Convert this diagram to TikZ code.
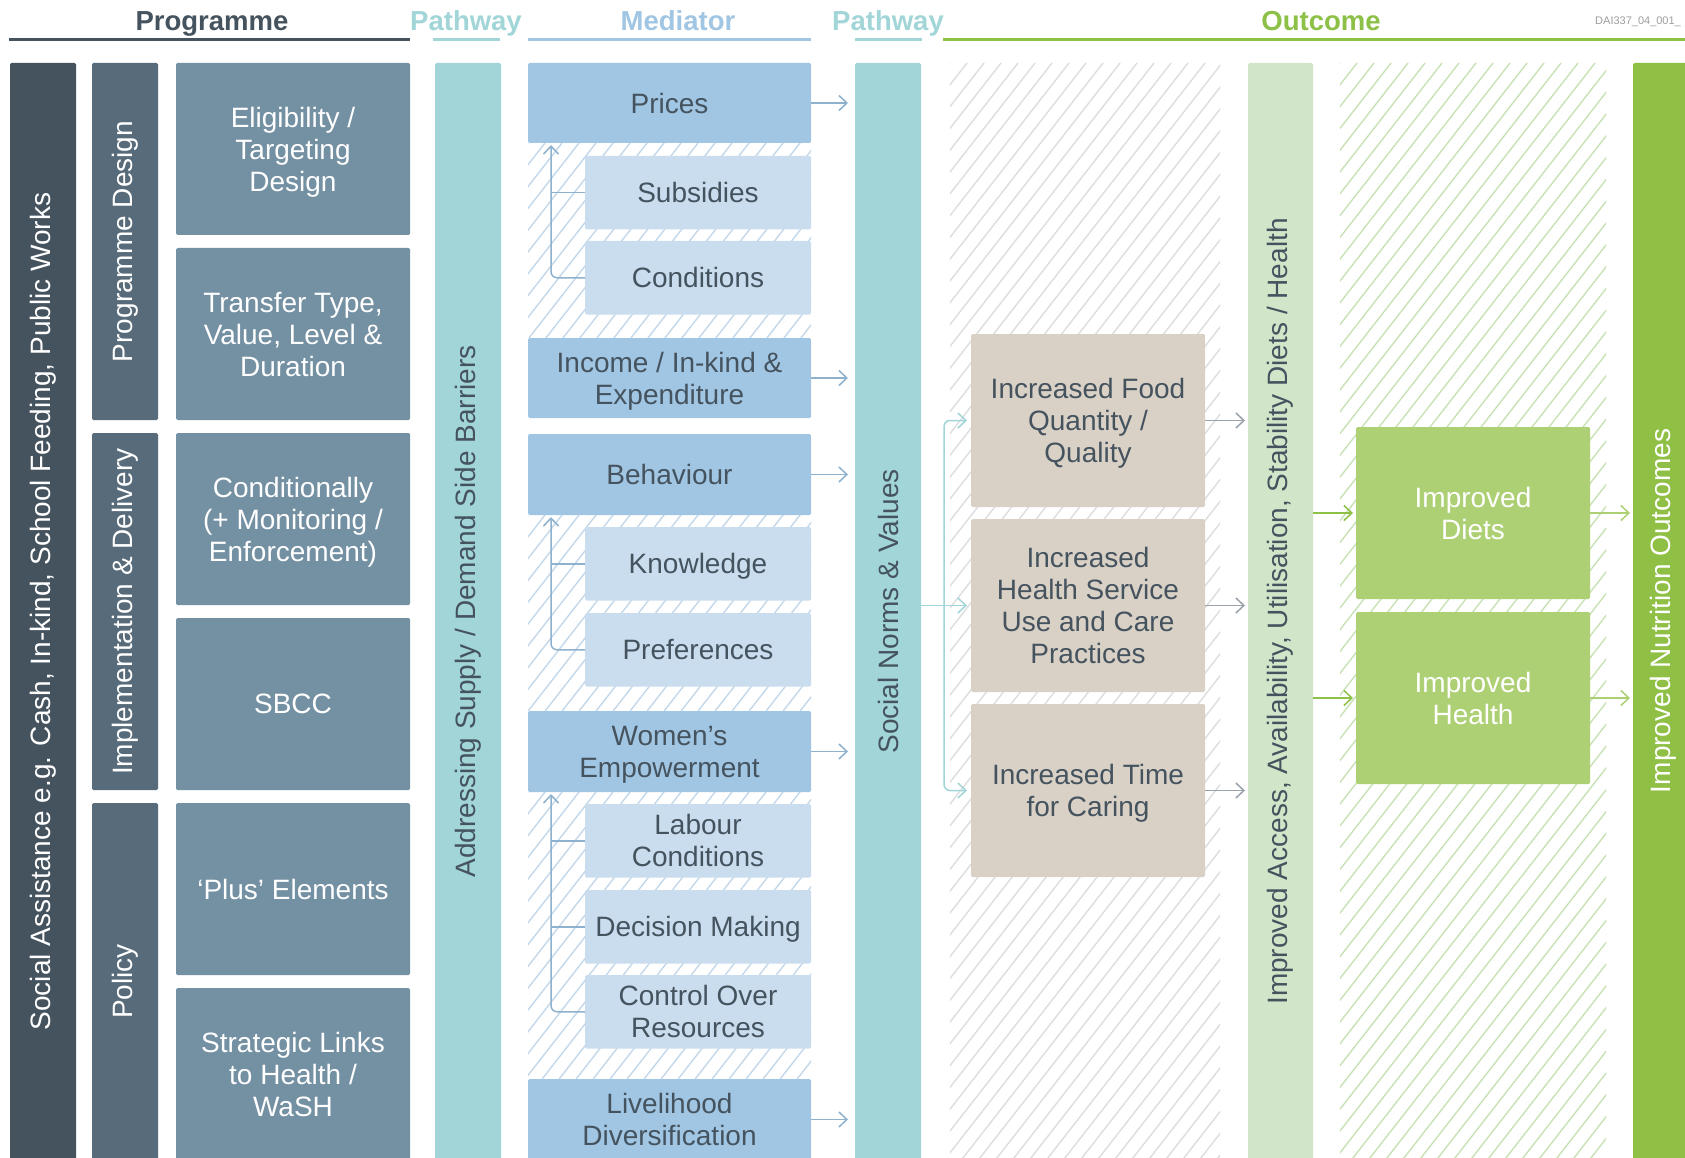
\documentclass[tikz,border=0pt]{standalone}
\usepackage{fontspec}
\setmainfont{Liberation Sans}
\usetikzlibrary{arrows.meta,calc}
\definecolor{cA}{HTML}{45535F}
\definecolor{cB}{HTML}{576B7A}
\definecolor{cC}{HTML}{7490A3}
\definecolor{cPw}{HTML}{A1D5D8}
\definecolor{cMed}{HTML}{A1C6E3}
\definecolor{cSub}{HTML}{CADDEE}
\definecolor{cT}{HTML}{45535F}
\definecolor{cTan}{HTML}{D9D1C6}
\definecolor{cLG}{HTML}{D1E5C9}
\definecolor{cGB}{HTML}{AED074}
\definecolor{cFin}{HTML}{8FBF45}
\definecolor{cOut}{HTML}{8DC047}
\definecolor{hGrey}{HTML}{DDDDDD}
\definecolor{hBlue}{HTML}{C3D8EA}
\definecolor{hGreen}{HTML}{C8E2B6}
\definecolor{aBlue}{HTML}{8EB1CE}
\definecolor{aGrey}{HTML}{9AA3AC}
\newcommand\bxfont{\fontsize{28}{32}\selectfont}
\newcommand\hatchrect[5]{%
  \begin{scope}
    \clip (#2,#3) rectangle (#4,#5);
    \pgfmathsetmacro\hA{#2-(#5-#3)*0.78}
    \pgfmathsetmacro\hB{\hA+17}
    \foreach \s in {\hA,\hB,...,#4}{\draw[#1, line width=1.4pt] (\s,#5) -- ++({(#5-#3)*0.78},{-(#5-#3)});}
  \end{scope}}
\tikzset{
  box/.style={rectangle, rounded corners=1.5pt, inner sep=0pt, outer sep=0pt, anchor=north west, align=center, font=\bxfont, text depth=0pt},
  colbox/.style={box, minimum width=66pt},
  progC/.style={box, fill=cC, text=white, minimum width=234pt, minimum height=172pt},
  medM/.style={box, fill=cMed, text=cT, minimum width=283pt, minimum height=80pt},
  medS/.style={box, fill=cSub, text=cT, minimum width=226pt, minimum height=73.5pt},
  tanbox/.style={box, fill=cTan, text=cT, minimum width=234pt, minimum height=173pt},
  greenbox/.style={box, fill=cGB, text=white, minimum width=234pt, minimum height=172pt},
  vtext/.style={rotate=90, font=\bxfont, inner sep=0pt},
  hdr/.style={anchor=base, font=\fontsize{27.5}{32}\selectfont\bfseries, inner sep=0pt},
  hline/.style={line width=3pt},
  tipR/.style={-{Straight Barb[length=8pt,width=15pt]}},
  marr/.style={tipR, aBlue, line width=1.5pt, shorten >=7pt},
  mline/.style={aBlue, line width=1.5pt},
  tarr/.style={tipR, cPw, line width=1.5pt, shorten >=4pt},
  garr/.style={tipR, aGrey, line width=1.5pt, shorten >=3pt},
  gin/.style={tipR, cOut, line width=1.5pt, shorten >=3pt},
  gout/.style={tipR, cGB, line width=1.5pt, shorten >=3pt},
}
\begin{document}
\begin{tikzpicture}[x=1pt,y=-1pt]
\clip (0,0) rectangle (1685,1158);
\fill[white] (0,0) rectangle (1685,1158);

% ---------- headers ----------
\node[hdr, text=cA] (hProg) at (212,31) {Programme};
\node[hdr, text=cPw] (hPw1) at (466,31) {Pathway};
\node[hdr, text=cMed] (hMed) at (678,31) {Mediator};
\node[hdr, text=cPw] (hPw2) at (888,31) {Pathway};
\node[hdr, text=cOut] (hOut) at (1321,31) {Outcome};
\node[anchor=west, inner sep=0pt, font=\fontsize{11}{13}\selectfont, text=black!38] (dai) at (1595,22) {DAI337\_04\_001\_};
\draw[hline, cA] (9,40) -- (410,40);
\draw[hline, cPw] (433,40) -- (500,40);
\draw[hline, cMed] (528,40) -- (811,40);
\draw[hline, cPw] (855,40) -- (922,40);
\draw[hline, cOut] (943,40) -- (1685,40);

% ---------- hatched backgrounds ----------
\hatchrect{hGrey}{950}{63}{1220}{1160}
\hatchrect{hGreen}{1340}{63}{1606}{1160}
\hatchrect{hBlue}{528}{143}{811}{338}
\hatchrect{hBlue}{528}{515}{811}{711}
\hatchrect{hBlue}{528}{792}{811}{1079}

% ---------- programme columns ----------
\node[colbox, fill=cA, minimum height=1097pt] (sa) at (10,63) {};
\node[vtext, text=white] (saT) at (sa.center) {Social Assistance e.g. Cash, In-kind, School Feeding, Public Works};
\node[colbox, fill=cB, minimum height=357pt] (pd) at (92,63) {};
\node[vtext, text=white] (pdT) at (pd.center) {Programme Design};
\node[colbox, fill=cB, minimum height=357pt] (id) at (92,433) {};
\node[vtext, text=white] (idT) at (id.center) {Implementation \& Delivery};
\node[colbox, fill=cB, minimum height=357pt] (po) at (92,803) {};
\node[vtext, text=white] (poT) at (po.center) {Policy};

\node[progC] (c1) at (176,63)  {Eligibility /\\Targeting\\Design};
\node[progC] (c2) at (176,248) {Transfer Type,\\Value, Level \&\\Duration};
\node[progC] (c3) at (176,433) {Conditionally\\(+ Monitoring /\\Enforcement)};
\node[progC] (c4) at (176,618) {SBCC};
\node[progC] (c5) at (176,803) {‘Plus’ Elements};
\node[progC] (c6) at (176,988) {Strategic Links\\to Health /\\WaSH};

% ---------- pathway 1 ----------
\node[colbox, fill=cPw, minimum height=1097pt] (pw1) at (435,63) {};
\node[vtext, text=cT] (pw1T) at (pw1.center) {Addressing Supply / Demand Side Barriers};

% ---------- mediators ----------
\node[medM] (prices) at (528,63) {Prices};
\node[medS] (subs) at (585,156) {Subsidies};
\node[medS] (cond) at (585,241) {Conditions};
\node[medM] (income) at (528,338) {Income / In-kind \&\\Expenditure};
\node[medM, minimum height=81pt] (behav) at (528,434) {Behaviour};
\node[medS] (know) at (585,527) {Knowledge};
\node[medS] (pref) at (585,613) {Preferences};
\node[medM, minimum height=81pt] (women) at (528,711) {Women’s\\Empowerment};
\node[medS] (labour) at (585,804) {Labour\\Conditions};
\node[medS] (decis) at (585,890) {Decision Making};
\node[medS] (control) at (585,975) {Control Over\\Resources};
\node[medM, minimum height=81pt] (liveli) at (528,1079) {Livelihood\\Diversification};

\coordinate (j1) at (551,143);
\coordinate (j2) at (551,515);
\coordinate (j3) at (551,792);
\draw[mline, rounded corners=6pt, -{Straight Barb[length=8pt,width=15pt]}, shorten >=2pt] (cond.west) -| (j1);
\draw[mline] (subs.west) -- (subs.west -| j1);
\draw[mline, rounded corners=6pt, -{Straight Barb[length=8pt,width=15pt]}, shorten >=2pt] (pref.west) -| (j2);
\draw[mline] (know.west) -- (know.west -| j2);
\draw[mline, rounded corners=6pt, -{Straight Barb[length=8pt,width=15pt]}, shorten >=2pt] (control.west) -| (j3);
\draw[mline] (labour.west) -- (labour.west -| j3);
\draw[mline] (decis.west) -- (decis.west -| j3);

% ---------- pathway 2 ----------
\node[colbox, fill=cPw, minimum height=1097pt] (pw2) at (855,63) {};
\node[vtext, text=cT] (pw2T) at (pw2.center) {Social Norms \& Values};

\draw[marr] (prices.east) -- (prices.east -| pw2.west);
\draw[marr] (income.east) -- (income.east -| pw2.west);
\draw[marr] (behav.east) -- (behav.east -| pw2.west);
\draw[marr] (women.east) -- (women.east -| pw2.west);
\draw[marr] (liveli.east) -- (liveli.east -| pw2.west);

% ---------- outcomes ----------
\node[tanbox] (tan1) at (971,334) {Increased Food\\Quantity /\\Quality};
\node[tanbox] (tan2) at (971,519) {Increased\\Health Service\\Use and Care\\Practices};
\node[tanbox] (tan3) at (971,704) {Increased Time\\for Caring};

\coordinate (bx) at (944,605.5);
\draw[tarr] (pw2.east |- tan2.west) -- (tan2.west);
\draw[tarr, rounded corners=6pt] (bx) |- (tan1.west);
\draw[tarr, rounded corners=6pt] (bx) |- (tan3.west);

\node[colbox, fill=cLG, minimum width=65pt, minimum height=1097pt] (lg) at (1248,63) {};
\node[vtext, text=cT] (lgT) at (lg.center) {Improved Access, Availability, Utilisation, Stability Diets / Health};

\draw[garr] (tan1.east) -- (tan1.east -| lg.west);
\draw[garr] (tan2.east) -- (tan2.east -| lg.west);
\draw[garr] (tan3.east) -- (tan3.east -| lg.west);

\node[greenbox] (gd) at (1356,427) {Improved\\Diets};
\node[greenbox] (gh) at (1356,612) {Improved\\Health};

\node[colbox, fill=cFin, minimum height=1097pt] (fin) at (1633,63) {};
\node[vtext, text=white] (finT) at (1663,611) {Improved Nutrition Outcomes};

\draw[gin] (lg.east |- gd.west) -- (gd.west);
\draw[gin] (lg.east |- gh.west) -- (gh.west);
\draw[gout] (gd.east) -- (gd.east -| fin.west);
\draw[gout] (gh.east) -- (gh.east -| fin.west);
\end{tikzpicture}
\end{document}
